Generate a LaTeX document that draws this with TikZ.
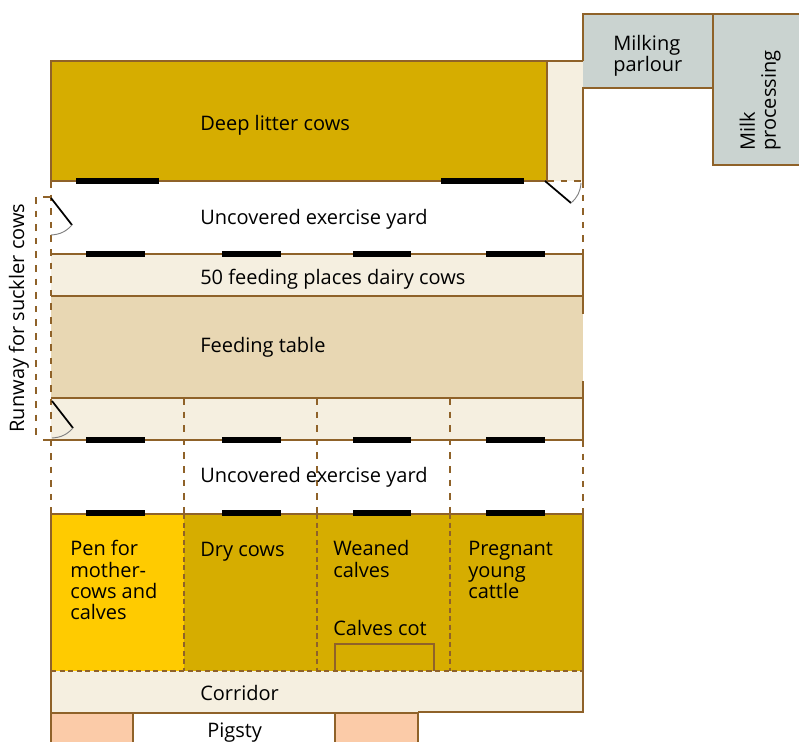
\documentclass[tikz,border=0pt]{standalone}
\usepackage{fontspec}
\setmainfont{Open Sans}
\usetikzlibrary{positioning}
\definecolor{wallbrown}{HTML}{8F6229}
\definecolor{strawgold}{HTML}{D6AD00}
\definecolor{penyellow}{HTML}{FFCB00}
\definecolor{creamfloor}{HTML}{F5EFE0}
\definecolor{tablebeige}{HTML}{E8D7B3}
\definecolor{parlourgrey}{HTML}{CAD3D0}
\definecolor{pigpeach}{HTML}{FBCBA8}
\tikzset{
  wall/.style={draw=wallbrown, line width=2.2pt},
  thinwall/.style={draw=wallbrown, line width=1.3pt},
  fence/.style={draw=wallbrown, line width=2.2pt, dash pattern=on 5pt off 5.2pt},
  finefence/.style={draw=wallbrown, line width=1.7pt, dash pattern=on 3.8pt off 2.6pt},
  trough/.style={draw=black, line width=4pt},
  gate/.style={draw=black, line width=1.3pt},
  swing/.style={draw=gray, line width=0.7pt},
  label/.style={anchor=west, font=\fontsize{15}{15.8}\selectfont, align=left, inner sep=0pt}
}
\begin{document}
\begin{tikzpicture}[x=0.75pt, y=-0.75pt]
\useasboundingbox (0,0) rectangle (799,742);
% Floors
\fill[strawgold] (51,61) rectangle (547,181);
\fill[creamfloor] (547,61) rectangle (583,181);
\fill[parlourgrey] (583,14) rectangle (713,88);
\fill[parlourgrey] (713,14) rectangle (799,165);
\fill[creamfloor] (51,254) rectangle (583,296);
\fill[tablebeige] (51,296) rectangle (583,398);
\fill[creamfloor] (51,398) rectangle (583,440);
\fill[strawgold] (184,514) rectangle (583,671);
\fill[penyellow] (51,514) rectangle (184,671);
\fill[creamfloor] (51,671) rectangle (583,712);
\fill[pigpeach] (51,713) rectangle (133,742);
\fill[pigpeach] (335,713) rectangle (418,742);

% Fences
\draw[fence] (51,181) -- (51,514);
\draw[fence] (583,181) -- (583,254);
\draw[fence] (583,440) -- (583,514);
\draw[fence] (36,197) -- (36,440);
\draw[fence] (43,197) -- (51,197);
\draw[fence] (547,181) -- (583,181);
\foreach \xpen in {184,317,450} {
  \draw[fence] (\xpen,398) -- (\xpen,514);
  \draw[finefence] (\xpen,514) -- (\xpen,671);
}

% Walls
\draw[wall] (547,181) -- (51,181) -- (51,61) -- (583,61);
\draw[wall] (547,61) -- (547,181);
\draw[wall] (583,61) -- (583,14) -- (799,14);
\draw[wall] (583,181) -- (583,88) -- (713,88);
\draw[wall] (713,14) -- (713,165) -- (799,165);
\draw[wall] (51,254) -- (583,254) -- (583,296);
\draw[wall] (51,296) -- (583,296);
\draw[wall] (583,296) -- (583,314);
\draw[wall] (583,381) -- (583,398);
\draw[wall] (51,398) -- (583,398) -- (583,440) -- (43,440);
\draw[wall] (51,671) -- (51,514) -- (583,514) -- (583,712) -- (418,712);
\draw[wall] (51,671) -- (51,713) -- (418,713);
\draw[finefence] (51,671) -- (583,671);
\draw[wall] (335,671) -- (335,644) -- (434,644) -- (434,671);
\draw[thinwall] (51,713) -- (51,742);
\draw[thinwall] (133,713) -- (133,742);
\draw[thinwall] (335,713) -- (335,742);
\draw[thinwall] (418,713) -- (418,742);

% Feed troughs
\draw[trough] (76,181) -- (159,181);
\draw[trough] (441,181) -- (524,181);
\foreach \ybar in {254,440,513} {
  \draw[trough] (86,\ybar) -- (145,\ybar);
  \draw[trough] (222,\ybar) -- (281,\ybar);
  \draw[trough] (353,\ybar) -- (411,\ybar);
  \draw[trough] (486,\ybar) -- (545,\ybar);
}

% Gates
\draw[gate] (545,181) -- (571,203);
\draw[swing] (571,203) to[bend right=22] (581,183);
\draw[gate] (51,198) -- (72,225);
\draw[swing] (72,225) to[bend left=22] (51,235);
\draw[gate] (52,401) -- (73,428);
\draw[swing] (73,428) to[bend left=22] (52,438);

% Labels
\node[label] (deeplitter) at (200,125) {Deep litter cows};
\node[label] (yardtop) at (200,219) {Uncovered exercise yard};
\node[label] (feedplaces) at (200,279) {50 feeding places dairy cows};
\node[label] (feedtable) at (200,347) {Feeding table};
\node[label] (yardlow) at (200,477) {Uncovered exercise yard};
\node[label] (penmother) at (70,580) {Pen for\\mother-\\cows and\\calves};
\node[label] (drycows) at (200,552) {Dry cows};
\node[label] (weaned) at (333,559) {Weaned\\calves};
\node[label] (pregnant) at (468,570) {Pregnant\\young\\cattle};
\node[label] (calvescot) at (333,628) {Calves cot};
\node[label] (corridor) at (200,693) {Corridor};
\node[label] (pigsty) at (207,733) {Pigsty};
\node[label] (parlour) at (613,56) {Milking\\parlour};
\node[label, anchor=south west, rotate=90] (milkproc) at (781,151) {Milk\\processing};
\node[label, anchor=center, rotate=90] (runway) at (19,318) {Runway for suckler cows};
\end{tikzpicture}
\end{document}
